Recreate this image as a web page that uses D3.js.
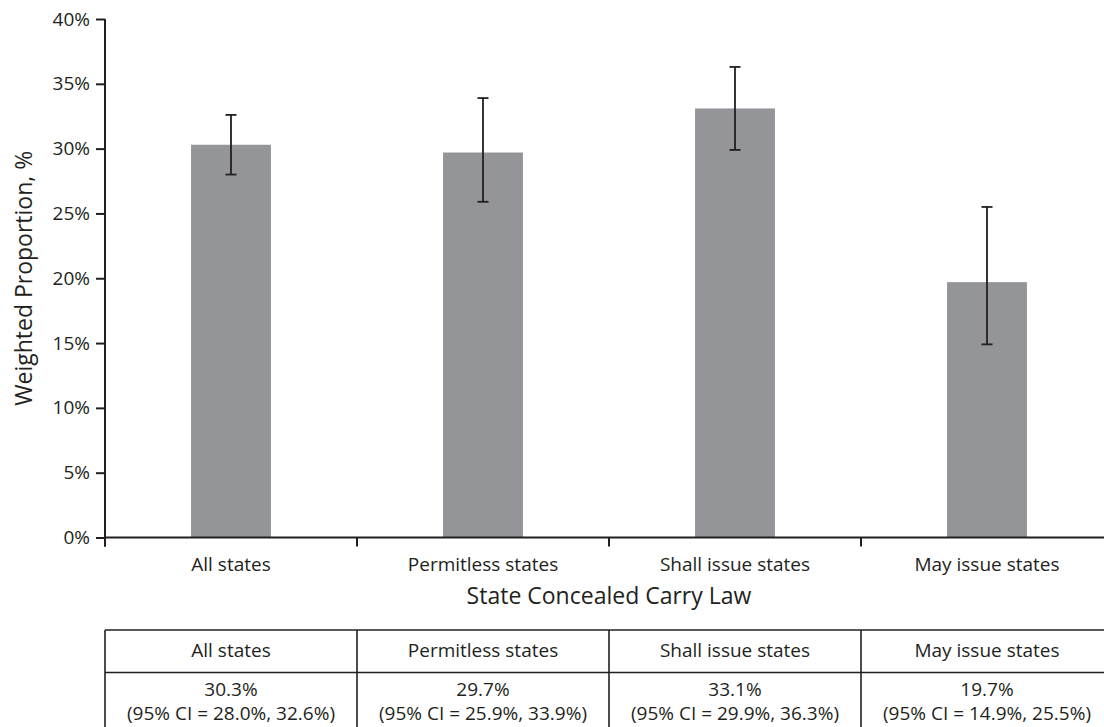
<!DOCTYPE html>
<html>
<head>
<meta charset="utf-8">
<script src="https://cdn.jsdelivr.net/npm/d3@7"></script>
<style>
	body { margin: 0; background: #fff; }
	svg { display: block; font-family: "Open Sans", sans-serif; }
	text { fill: #231f20; }
</style>
</head>
<body>
<div id="chart"></div>
<script>
'use strict';

// chart data
var categories = ["All states", "Permitless states", "Shall issue states", "May issue states"];
var values = [30.3, 29.7, 33.1, 19.7];
var ciLow = [28.0, 25.9, 29.9, 14.9];
var ciHigh = [32.6, 33.9, 36.3, 25.5];
var yTicks = [0, 5, 10, 15, 20, 25, 30, 35, 40];

var width = 1104, height = 727;
var ink = "#231f20";

var svg = d3.select("#chart").append("svg")
	.attr("width", width)
	.attr("height", height);

var x = d3.scaleBand().domain(categories).range([105, 1113]);
var y = d3.scaleLinear().domain([0, 40]).range([537.5, 19]);
var barWidth = x.bandwidth() * 0.317;

// bars
svg.selectAll(".bar")
	.data(categories)
	.enter()
	.append("rect")
	.attr("class", "bar")
	.attr("x", function (d) { return x(d) + (x.bandwidth() - barWidth) / 2; })
	.attr("y", function (d, i) { return y(values[i]); })
	.attr("width", barWidth)
	.attr("height", function (d, i) { return y(0) - y(values[i]); })
	.attr("fill", "#939598");

// error bars
var err = svg.selectAll(".err")
	.data(categories)
	.enter()
	.append("g")
	.attr("class", "err")
	.attr("transform", function (d) {
		return "translate(" + (x(d) + x.bandwidth() / 2) + ",0)";
	})
	.attr("stroke", ink)
	.attr("stroke-width", 1.8);

err.append("line")
	.attr("y1", function (d, i) { return y(ciLow[i]); })
	.attr("y2", function (d, i) { return y(ciHigh[i]); });
err.append("line")
	.attr("x1", -5.5).attr("x2", 5.5)
	.attr("y1", function (d, i) { return y(ciLow[i]); })
	.attr("y2", function (d, i) { return y(ciLow[i]); });
err.append("line")
	.attr("x1", -5.5).attr("x2", 5.5)
	.attr("y1", function (d, i) { return y(ciHigh[i]); })
	.attr("y2", function (d, i) { return y(ciHigh[i]); });

// y axis
var yAxis = svg.append("g")
	.attr("transform", "translate(105,0)")
	.call(d3.axisLeft(y).tickValues(yTicks).tickFormat(function (d) { return d + "%"; })
		.tickSize(9).tickPadding(6).tickSizeOuter(0));
yAxis.select(".domain").remove();
yAxis.selectAll("line").attr("stroke", ink).attr("stroke-width", 2);
yAxis.selectAll("text")
	.attr("font-size", 19)
	.attr("font-family", "Open Sans")
	.attr("fill", ink);
svg.append("line")
	.attr("x1", 105).attr("x2", 105)
	.attr("y1", y(40)).attr("y2", y(0) + 9)
	.attr("stroke", ink).attr("stroke-width", 2);

// x axis
svg.append("line")
	.attr("x1", 105).attr("x2", 1113)
	.attr("y1", y(0)).attr("y2", y(0))
	.attr("stroke", ink).attr("stroke-width", 2);
svg.selectAll(".xtick")
	.data(categories)
	.enter()
	.append("line")
	.attr("x1", function (d) { return x(d); })
	.attr("x2", function (d) { return x(d); })
	.attr("y1", y(0)).attr("y2", y(0) + 9)
	.attr("stroke", ink).attr("stroke-width", 2);
svg.selectAll(".xlabel")
	.data(categories)
	.enter()
	.append("text")
	.attr("x", function (d) { return x(d) + x.bandwidth() / 2; })
	.attr("y", 570.5)
	.attr("text-anchor", "middle")
	.attr("font-size", 19)
	.text(function (d) { return d; });

// axis titles
svg.append("text")
	.attr("x", 609)
	.attr("y", 604)
	.attr("text-anchor", "middle")
	.attr("font-size", 23)
	.text("State Concealed Carry Law");
svg.append("text")
	.attr("transform", "translate(32," + ((y(0) + y(40)) / 2) + ") rotate(-90)")
	.attr("text-anchor", "middle")
	.attr("font-size", 23)
	.text("Weighted Proportion, %");

// table under the chart
var tableTop = 630, rowSplit = 672.5, tableBottom = 740;
var tbl = svg.append("g").attr("stroke", ink).attr("stroke-width", 1.6);
tbl.append("line").attr("x1", 105).attr("x2", 1113).attr("y1", tableTop).attr("y2", tableTop);
tbl.append("line").attr("x1", 105).attr("x2", 1113).attr("y1", rowSplit).attr("y2", rowSplit);
tbl.selectAll(".col")
	.data(categories)
	.enter()
	.append("line")
	.attr("x1", function (d) { return x(d); })
	.attr("x2", function (d) { return x(d); })
	.attr("y1", tableTop).attr("y2", tableBottom);

svg.selectAll(".thead")
	.data(categories)
	.enter()
	.append("text")
	.attr("x", function (d) { return x(d) + x.bandwidth() / 2; })
	.attr("y", 657)
	.attr("text-anchor", "middle")
	.attr("font-size", 19)
	.text(function (d) { return d; });

svg.selectAll(".tval")
	.data(categories)
	.enter()
	.append("text")
	.attr("x", function (d) { return x(d) + x.bandwidth() / 2; })
	.attr("y", 696)
	.attr("text-anchor", "middle")
	.attr("font-size", 19)
	.text(function (d, i) { return values[i].toFixed(1) + "%"; });

svg.selectAll(".tci")
	.data(categories)
	.enter()
	.append("text")
	.attr("x", function (d) { return x(d) + x.bandwidth() / 2; })
	.attr("y", 719.5)
	.attr("text-anchor", "middle")
	.attr("font-size", 19)
	.text(function (d, i) {
		return "(95% CI = " + ciLow[i].toFixed(1) + "%, " + ciHigh[i].toFixed(1) + "%)";
	});
</script>
</body>
</html>
